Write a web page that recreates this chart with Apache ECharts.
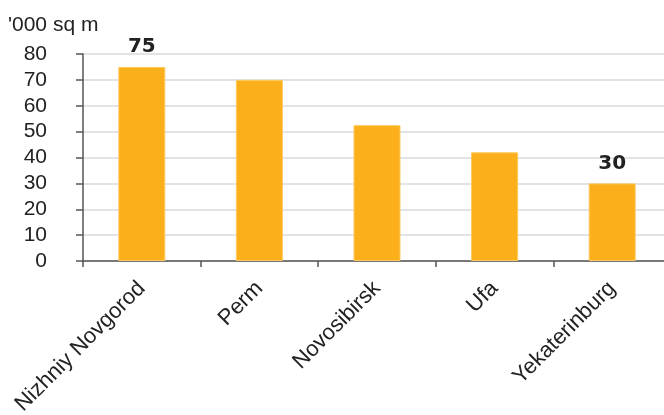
<!DOCTYPE html>
<html>
<head>
<meta charset="utf-8">
<script src="https://cdn.jsdelivr.net/npm/echarts@6/dist/echarts.min.js"></script>
<style>
  html, body { margin: 0; padding: 0; background: #fff; }
  #chart { width: 664px; height: 415px; }
</style>
</head>
<body>
<div id="chart"></div>
<script>
// Retail space by city, thousand square metres
const cities = ['Nizhniy Novgorod', 'Perm', 'Novosibirsk', 'Ufa', 'Yekaterinburg'];
const space = [75, 70, 52.5, 42, 30];
// Only the highest and lowest bars carry a value label
const labelled = [true, false, false, false, true];
const yTicks = { min: 0, max: 80, interval: 10 };
const unitLabel = "'000 sq m";

const FONT = '"Liberation Sans", Arial, sans-serif';
const BOLD_FONT = '"DejaVu Sans", Verdana, sans-serif';
const chart = echarts.init(document.getElementById('chart'), null, { renderer: 'canvas' });

chart.setOption({
  animation: false,
  textStyle: { fontFamily: FONT },
  title: {
    text: unitLabel,
    left: 3, top: 10,
    textStyle: { fontFamily: FONT, fontSize: 21, fontWeight: 'normal', color: '#222' }
  },
  grid: {
    left: 83, width: 588, top: 54, height: 207,
    containLabel: false, outerBoundsMode: 'none'
  },
  xAxis: {
    type: 'category',
    data: cities,
    axisLine: { lineStyle: { color: '#555', width: 1.5 } },
    axisTick: { show: true, length: 6, alignWithLabel: false, lineStyle: { color: '#555', width: 1.5 } },
    axisLabel: {
      rotate: 45, interval: 0, margin: 24,
      fontFamily: FONT, fontSize: 22, color: '#222'
    }
  },
  yAxis: {
    type: 'value',
    min: yTicks.min, max: yTicks.max, interval: yTicks.interval,
    axisLine: { show: true, lineStyle: { color: '#555', width: 1.5 } },
    axisTick: { show: true, length: 7, lineStyle: { color: '#555', width: 1.5 } },
    axisLabel: { margin: 30, padding: [0, 6, 0, 0], fontFamily: FONT, fontSize: 21, color: '#222' },
    splitLine: { lineStyle: { color: '#D9DADF', width: 1.5 } }
  },
  series: [{
    type: 'bar',
    barWidth: 47,
    data: space.map((v, i) => ({
      value: v,
      label: {
        show: labelled[i],
        position: 'top',
        distance: 10,
        fontFamily: BOLD_FONT, fontSize: 20, fontWeight: 'bold', color: '#222'
      }
    })),
    itemStyle: { color: '#FBB01B', borderColor: '#FDC95E', borderWidth: 1 }
  }]
});
</script>
</body>
</html>
